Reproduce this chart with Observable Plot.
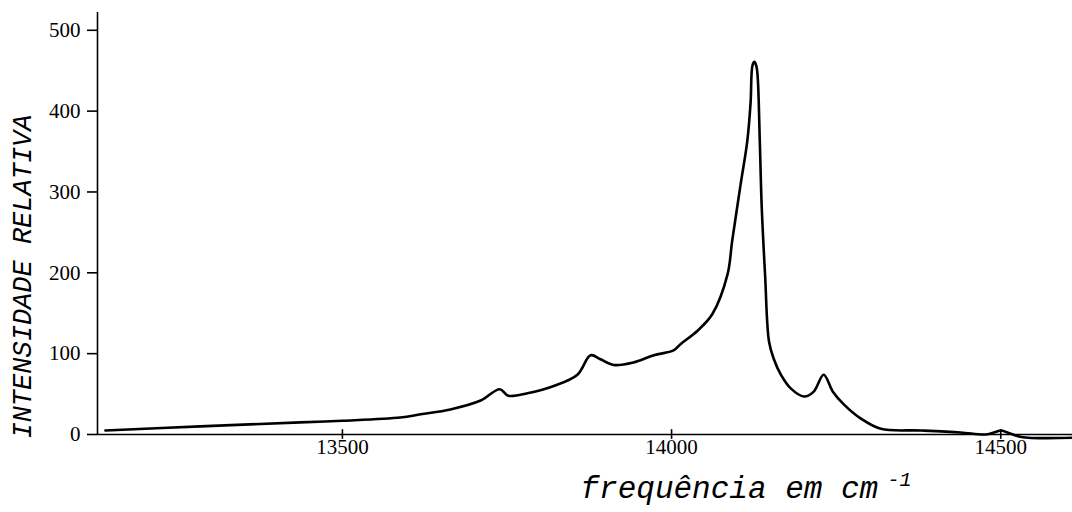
<!DOCTYPE html>
<html>
<head>
<meta charset="utf-8">
<script src="https://cdn.jsdelivr.net/npm/d3@7"></script>
<script src="https://cdn.jsdelivr.net/npm/@observablehq/plot@0.6"></script>
<style>
  body { margin: 0; background: #fff; }
</style>
</head>
<body>
<div id="chart"></div>
<script>
// Emission spectrum: wavenumber (cm^-1) against relative intensity
const wavenumber = [
  13140, 13284, 13436, 13500, 13588, 13619, 13664, 13710, 13739, 13752,
  13781, 13821, 13857, 13877, 13892, 13912, 13942, 13973, 14003, 14014,
  14039, 14062, 14085, 14092, 14105, 14115, 14120, 14123, 14126, 14129,
  14131, 14134, 14137, 14142, 14148, 14155, 14166, 14181, 14201, 14216,
  14231, 14245, 14262, 14287, 14318, 14379, 14439, 14477, 14492, 14500,
  14512, 14531, 14610
];
const intensity = [
  5, 10, 15, 17, 21, 25, 31, 42, 56, 48,
  51, 60, 74, 98, 93, 86, 89, 98, 104, 112,
  128, 149, 198, 239, 310, 363, 410, 457, 461, 455,
  440, 363, 280, 198, 115, 94, 74, 57, 47, 53,
  74, 53, 37, 20, 7, 5, 2.5, 0, 3, 5,
  2, -3, -4
];

const xTicks = [13500, 14000, 14500];
const yTicks = [0, 100, 200, 300, 400, 500];
const xDomain = [13128, 14609];
const yDomain = [0, 522];

const yTitle = "INTENSIDADE RELATIVA";
const xTitle = "frequência em cm";
const xTitleExponent = "-1";

const spectrum = wavenumber.map((w, i) => ({ w, v: intensity[i] }));

const chart = Plot.plot({
  width: 1072,
  height: 512,
  marginLeft: 97,
  marginRight: 0,
  marginTop: 12,
  marginBottom: 78,
  style: { background: "#fff", color: "#000", fontFamily: "Liberation Serif", fontSize: "21px" },
  x: { domain: xDomain },
  y: { domain: yDomain },
  marks: [
    Plot.axisY({ ticks: yTicks, tickFormat: d3.format("d"), tickSize: 10, tickPadding: 7, label: null, strokeWidth: 1.6, fontSize: 21, fontFamily: "Liberation Serif" }),
    Plot.axisX({ ticks: xTicks, tickFormat: d3.format("d"), tickSize: 0, tickPadding: 5, label: null, fontSize: 21, fontFamily: "Liberation Serif" }),
    // small cross-shaped ticks on the wavenumber axis
    Plot.ruleX(xTicks, { y1: -6, y2: 6, strokeWidth: 1.6 }),
    Plot.ruleX([xDomain[0]], { strokeWidth: 1.6 }),
    Plot.ruleY([0], { strokeWidth: 1.6 }),
    Plot.line(spectrum, { x: "w", y: "v", curve: "catmull-rom", strokeWidth: 2.6 }),
    Plot.text([yTitle], {
      frameAnchor: "left", textAnchor: "middle", rotate: -90, dx: -75, dy: 53,
      fontSize: 27, fontFamily: "Liberation Mono", fontStyle: "italic"
    }),
    Plot.text([xTitle], {
      frameAnchor: "bottom-left", textAnchor: "start", lineAnchor: "bottom", dx: 483, dy: 63,
      fontSize: 31, fontFamily: "Liberation Mono", fontStyle: "italic"
    }),
    Plot.text([xTitleExponent], {
      frameAnchor: "bottom-left", textAnchor: "start", lineAnchor: "bottom", dx: 790, dy: 51,
      fontSize: 20, fontFamily: "Liberation Mono", fontStyle: "italic"
    })
  ]
});

document.getElementById("chart").appendChild(chart);
</script>
</body>
</html>
